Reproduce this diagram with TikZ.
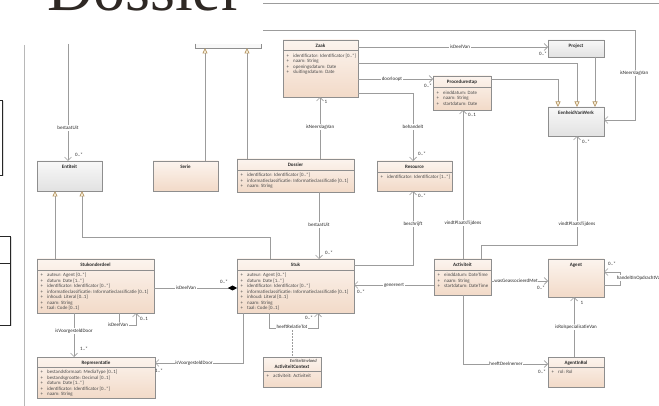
\documentclass[tikz,border=0pt]{standalone}
\usepackage{fontspec}
\setmainfont{Carlito}
\newfontfamily\headfont{Liberation Serif}
\usetikzlibrary{arrows.meta,calc,shadows}

\definecolor{peachTop}{HTML}{FCF4EE}
\definecolor{peachBot}{HTML}{F2DAC8}
\definecolor{grayTop}{HTML}{F8F8F8}
\definecolor{grayBot}{HTML}{E2E2E2}
\definecolor{boxBorder}{HTML}{8E8E8E}
\definecolor{wireGray}{HTML}{9C9C9C}
\definecolor{triLine}{HTML}{B39462}
\definecolor{triFill}{HTML}{FFF7E3}
\definecolor{ink}{HTML}{2A2A2A}
\definecolor{attrInk}{HTML}{4A4A4A}
\definecolor{headInk}{HTML}{2E2824}
\definecolor{divider}{HTML}{B8B8B8}

\tikzset{
  cls/.style={draw=boxBorder, line width=0.6pt, top color=peachTop, bottom color=peachBot,
    inner sep=0pt, outer sep=0pt},
  gcls/.style={draw=boxBorder, line width=0.6pt, top color=grayTop, bottom color=grayBot,
    inner sep=0pt, outer sep=0pt},
  ctitle/.style={font=\fontsize{5}{6}\selectfont\bfseries, text=ink, inner sep=0pt,
    text height=3.4pt, text depth=1pt},
  attrs/.style={font=\fontsize{4.9}{5.5}\selectfont, text=attrInk, align=left,
    inner sep=0pt, anchor=north west},
  wire/.style={draw=wireGray, line width=0.7pt},
  assoc/.style={wire, -{Straight Barb[length=3.5pt,width=7pt]}},
  gen/.style={wire, -{Triangle[length=5.5pt,width=5pt,color=triLine,fill=triFill]}},
  comp/.style={wire, -{Diamond[length=9pt,width=5pt,color=black,fill=black]}},
  lbl/.style={font=\fontsize{5}{6}\selectfont, text=ink, fill=white, inner sep=0.6pt,
    text height=3.4pt, text depth=1pt},
  mult/.style={font=\fontsize{5}{6}\selectfont, text=ink, inner sep=0pt,
    text height=3.4pt, text depth=1pt},
  sidebox/.style={draw=black!85, line width=0.9pt, fill=white, inner sep=0pt,
    drop shadow={shadow xshift=1pt, shadow yshift=-1pt, opacity=0.25}},
}

% one attribute row with its visibility mark
\newcommand{\umlattr}[1]{\makebox[6.5pt][l]{+}#1}

% class with title compartment and attribute compartment
% #1 style, #2 name, #3 x, #4 y, #5 width, #6 height, #7 title, #8 separator offset, #9 attributes
\newcommand{\umlclass}[9]{%
  \node[#1, minimum width=#5pt, minimum height=#6pt, anchor=north west] (#2) at (#3,#4) {};
  \path (#2.north) ++(0,6.5) node[ctitle] (#2-t) {#7};
  \draw[boxBorder, line width=0.5pt] (#2.north west) ++(0,#8) -- ++(#5,0);
  \path (#2.north west) ++(3.5,#8+3) node[attrs] (#2-a) {#9};
}

% class with a title only
\newcommand{\umlplain}[7]{%
  \node[#1, minimum width=#5pt, minimum height=#6pt, anchor=north west] (#2) at (#3,#4) {};
  \path (#2.north) ++(0,6.5) node[ctitle] (#2-t) {#7};
}

\begin{document}
\begin{tikzpicture}[x=1pt,y=-1pt]
\useasboundingbox (0,0) rectangle (659,406);
\clip (0,0) rectangle (659,406);

% ---------- page furniture ----------
\node[anchor=base west, inner sep=0pt, text=headInk,
      font=\headfont\fontsize{64}{64}\selectfont] (heading) at (47,11) {Dossier};
\coordinate (rule1a) at (263,3);
\coordinate (rule1b) at (659,3);
\draw[wire] (rule1a) -- (rule1b);
\coordinate (div1) at (24,45);
\coordinate (div2) at (24,406);
\draw[divider, line width=0.7pt] (div1) -- (div2);
\node[sidebox, minimum width=14pt, minimum height=75pt, anchor=north east] (sideA) at (3,100) {};
\node[sidebox, minimum width=20pt, minimum height=89pt, anchor=north east] (sideB) at (11,236) {};
\draw[black!85, line width=0.9pt] (sideB.west |- 0,263) -- (sideB.east |- 0,263);

% ---------- classes ----------
\node[fill=grayTop, inner sep=0pt, minimum width=66pt, minimum height=4pt, anchor=south west]
  (cutbox) at (195,48) {};
\draw[boxBorder, line width=0.6pt] (cutbox.north west) -- (cutbox.south west)
  -- (cutbox.south east) -- (cutbox.north east);

\umlclass{cls}{zaak}{283}{40}{75}{57}{Zaak}{10.5}{%
  \umlattr{identificator: Identificator [0..*]}\\
  \umlattr{naam: String}\\
  \umlattr{openingsdatum: Date}\\
  \umlattr{sluitingsdatum: Date}}

\umlplain{gcls}{project}{548}{40}{56}{17}{Project}

\umlclass{cls}{procedurestap}{433}{76}{58}{34}{Procedurestap}{11.5}{%
  \umlattr{einddatum: Date}\\
  \umlattr{naam: String}\\
  \umlattr{startdatum: Date}}

\umlplain{gcls}{evw}{548}{107}{56}{29}{EenheidVanWerk}
\umlplain{gcls}{entiteit}{37}{161}{65}{30}{Entiteit}
\umlplain{cls}{serie}{153}{161}{65}{30}{Serie}

\umlclass{cls}{dossier}{237}{159}{117}{33}{Dossier}{11}{%
  \umlattr{identificator: Identificator [0..*]}\\
  \umlattr{informatieclassificatie: Informatieclassificatie [0..1]}\\
  \umlattr{naam: String}}

\umlclass{cls}{resource}{377}{161}{75}{30}{Resource}{11}{%
  \umlattr{identificator: Identificator [1..*]}}

\umlclass{cls}{stukonderdeel}{37}{259}{117}{54}{Stukonderdeel}{11}{%
  \umlattr{auteur: Agent [0..*]}\\
  \umlattr{datum: Date [1..*]}\\
  \umlattr{identificator: Identificator [0..*]}\\
  \umlattr{informatieclassificatie: Informatieclassificatie [0..1]}\\
  \umlattr{inhoud: Literal [0..1]}\\
  \umlattr{naam: String}\\
  \umlattr{taal: Code [0..1]}}

\umlclass{cls}{stuk}{237}{259}{117}{54}{Stuk}{11}{%
  \umlattr{auteur: Agent [0..*]}\\
  \umlattr{datum: Date [1..*]}\\
  \umlattr{identificator: Identificator [0..*]}\\
  \umlattr{informatieclassificatie: Informatieclassificatie [0..1]}\\
  \umlattr{inhoud: Literal [0..1]}\\
  \umlattr{naam: String}\\
  \umlattr{taal: Code [0..1]}}

\umlclass{cls}{activiteit}{434}{259}{57}{36}{Activiteit}{11}{%
  \umlattr{einddatum: DateTime}\\
  \umlattr{naam: String}\\
  \umlattr{startdatum: DateTime}}

\umlplain{cls}{agent}{548}{259}{56}{38}{Agent}

\umlclass{cls}{representatie}{37}{357}{118}{41}{Representatie}{10}{%
  \umlattr{bestandsformaat: MediaType [0..1]}\\
  \umlattr{bestandsgrootte: Decimal [0..1]}\\
  \umlattr{datum: Date [1..*]}\\
  \umlattr{identificator: Identificator [0..*]}\\
  \umlattr{naam: String}}

% association class with stereotype
\node[cls, minimum width=58pt, minimum height=30pt, anchor=north west] (actctx) at (263,357) {};
\path (actctx.north east) ++(-4,4) node[anchor=east, inner sep=0pt, text=ink,
  font=\fontsize{4.6}{5}\selectfont\itshape, text height=3pt, text depth=0.8pt] (actctx-s) {EntiteitInvloed};
\path (actctx.north) ++(0,10) node[ctitle] (actctx-t) {ActiviteitContext};
\draw[boxBorder, line width=0.5pt] (actctx.north west) ++(0,14) -- ++(58,0);
\path (actctx.north west) ++(3.5,17) node[attrs] (actctx-a) {\umlattr{activiteit: Activiteit}};

\umlclass{cls}{agentinrol}{548}{357}{56}{30}{AgentInRol}{10}{%
  \umlattr{rol: Rol}}

% ---------- connectors ----------
% Entiteit
\coordinate (entsrc) at (68,44);
\draw[assoc] (entsrc) -- (entsrc |- entiteit.north);
\node[lbl] (l-bestaatuit1) at (68,128) {bestaatUit};
\node[mult] (m-bestaatuit1) at (79,155) {0..*};
\draw[gen] (stukonderdeel.north -| 55,0) -- (entiteit.south -| 55,0);
\draw[gen] (stuk.north -| 270,0) |- (82,237) -- (entiteit.south -| 82,0);

% generalisations into the upper class
\draw[gen] (serie.north -| 205,0) -- (cutbox.south -| 205,0);
\draw[gen] (dossier.north -| 247,0) -- (cutbox.south -| 247,0);

% Dossier
\draw[assoc] (dossier.north -| 320,0) -- (zaak.south -| 320,0);
\node[lbl] (l-neerslag1) at (320,127) {isNeerslagVan};
\node[mult] (m-neerslag1) at (326,102) {1};
\draw[assoc] (dossier.south -| 319,0) -- (stuk.north -| 319,0);
\node[lbl] (l-bestaatuit2) at (319,225) {bestaatUit};
\node[mult] (m-bestaatuit2) at (329,253) {0..*};

% Zaak
\draw[assoc] (zaak.east |- 0,47) -- (project.west |- 0,47);
\node[lbl] (l-deelvan1) at (460,47) {isDeelVan};
\node[mult] (m-deelvan1) at (543,54) {0..*};
\draw[gen] (zaak.east |- 0,63) -| (evw.north -| 577,0);
\draw[assoc] (zaak.east |- 0,79) -- (procedurestap.west |- 0,79);
\node[lbl] (l-doorloopt) at (392,79) {doorloopt};
\node[mult] (m-doorloopt) at (428,86) {0..*};
\draw[assoc] (zaak.east |- 0,93) -| (resource.north -| 413,0);
\node[lbl] (l-behandelt) at (413,127) {behandelt};
\node[mult] (m-behandelt) at (422,154) {0..*};

% EenheidVanWerk
\draw[gen] (procedurestap.east |- 0,79) -| (evw.north -| 558,0);
\draw[gen] (project.south -| 595,0) -- (evw.north -| 595,0);
\coordinate (nsrc) at (263,30);
\draw[assoc] (nsrc) -| (635,120) -- (evw.east |- 0,120);
\node[lbl] (l-neerslag2) at (634,73) {isNeerslagVan};

% Stuk
\draw[assoc] (stuk.east |- 0,265) -| (resource.south -| 413,0);
\node[lbl] (l-beschrijft) at (413,224) {beschrijft};
\node[mult] (m-beschrijft) at (422,196) {0..*};
\draw[comp] (stukonderdeel.east |- 0,288) -- (stuk.west |- 0,288);
\node[lbl] (l-deelvan2) at (186,288) {isDeelVan};
\node[mult] (m-deelvan2) at (224,282) {0..*};
\draw[assoc] (stuk.south -| 269,0) |- (318,328) -- (stuk.south -| 318,0);
\node[lbl] (l-relatie) at (292,327) {heeftRelatieTot};
\node[mult] (m-relatie) at (309,318) {0..*};
\coordinate (relmid) at (292,330);
\draw[wire, dash pattern=on 1.5pt off 1.5pt] (relmid) -- (actctx.north -| relmid);
\draw[assoc] (stuk.south -| 243,0) |- (representatie.east |- 0,363);
\node[lbl] (l-voorgesteld2) at (194,363) {isVoorgesteldDoor};
\node[mult] (m-voorgesteld2) at (159,371) {1..*};

% Stukonderdeel
\draw[assoc] (stukonderdeel.south -| 119,0) |- (136,325) -- (stukonderdeel.south -| 136,0);
\node[lbl] (l-deelvan3) at (118,325) {isDeelVan};
\node[mult] (m-deelvan3) at (144,319) {0..1};
\draw[assoc] (stukonderdeel.south -| 74,0) -- (representatie.north -| 74,0);
\node[lbl] (l-voorgesteld1) at (74,331) {isVoorgesteldDoor};
\node[mult] (m-voorgesteld1) at (84,349) {1..*};

% Activiteit
\draw[assoc] (activiteit.north -| 463,0) -- (procedurestap.south -| 463,0);
\node[lbl] (l-plaats1) at (463,223) {vindtPlaatsTijdens};
\node[mult] (m-plaats1) at (472,115) {0..1};
\draw[assoc] (activiteit.north -| 481,0) |- (577,245) -- (evw.south -| 577,0);
\node[lbl] (l-plaats2) at (577,224) {vindtPlaatsTijdens};
\node[mult] (m-plaats2) at (586,142) {0..*};
\draw[assoc] (activiteit.west |- 0,285) -- (stuk.east |- 0,285);
\node[lbl] (l-genereert) at (394,285) {genereert};
\node[mult] (m-genereert) at (361,292) {0..*};
\draw[assoc] (activiteit.east |- 0,281) -- (agent.west |- 0,281);
\node[lbl] (l-geassoc) at (516,281) {wasGeassocieerdMet};
\node[mult] (m-geassoc) at (541,288) {0..*};
\draw[assoc] (activiteit.south -| 463,0) |- (agentinrol.west |- 0,364);
\node[lbl] (l-deelnemer) at (506,364) {heeftDeelnemer};
\node[mult] (m-deelnemer) at (542,372) {0..*};

% Agent
\draw[assoc] (agent.east |- 0,285) -- (620,285) -- (620,272) -- (agent.east |- 0,272);
\node[lbl, anchor=west] (l-opdracht) at (616,278) {handeltInOpdrachtVan};
\node[mult] (m-opdracht) at (612,264) {0..*};
\draw[assoc] (agentinrol.north -| 574,0) -- (agent.south -| 574,0);
\node[lbl] (l-rol) at (576,327) {isRolspecialisatieVan};
\node[mult] (m-rol) at (582,303) {1};

\end{tikzpicture}
\end{document}
